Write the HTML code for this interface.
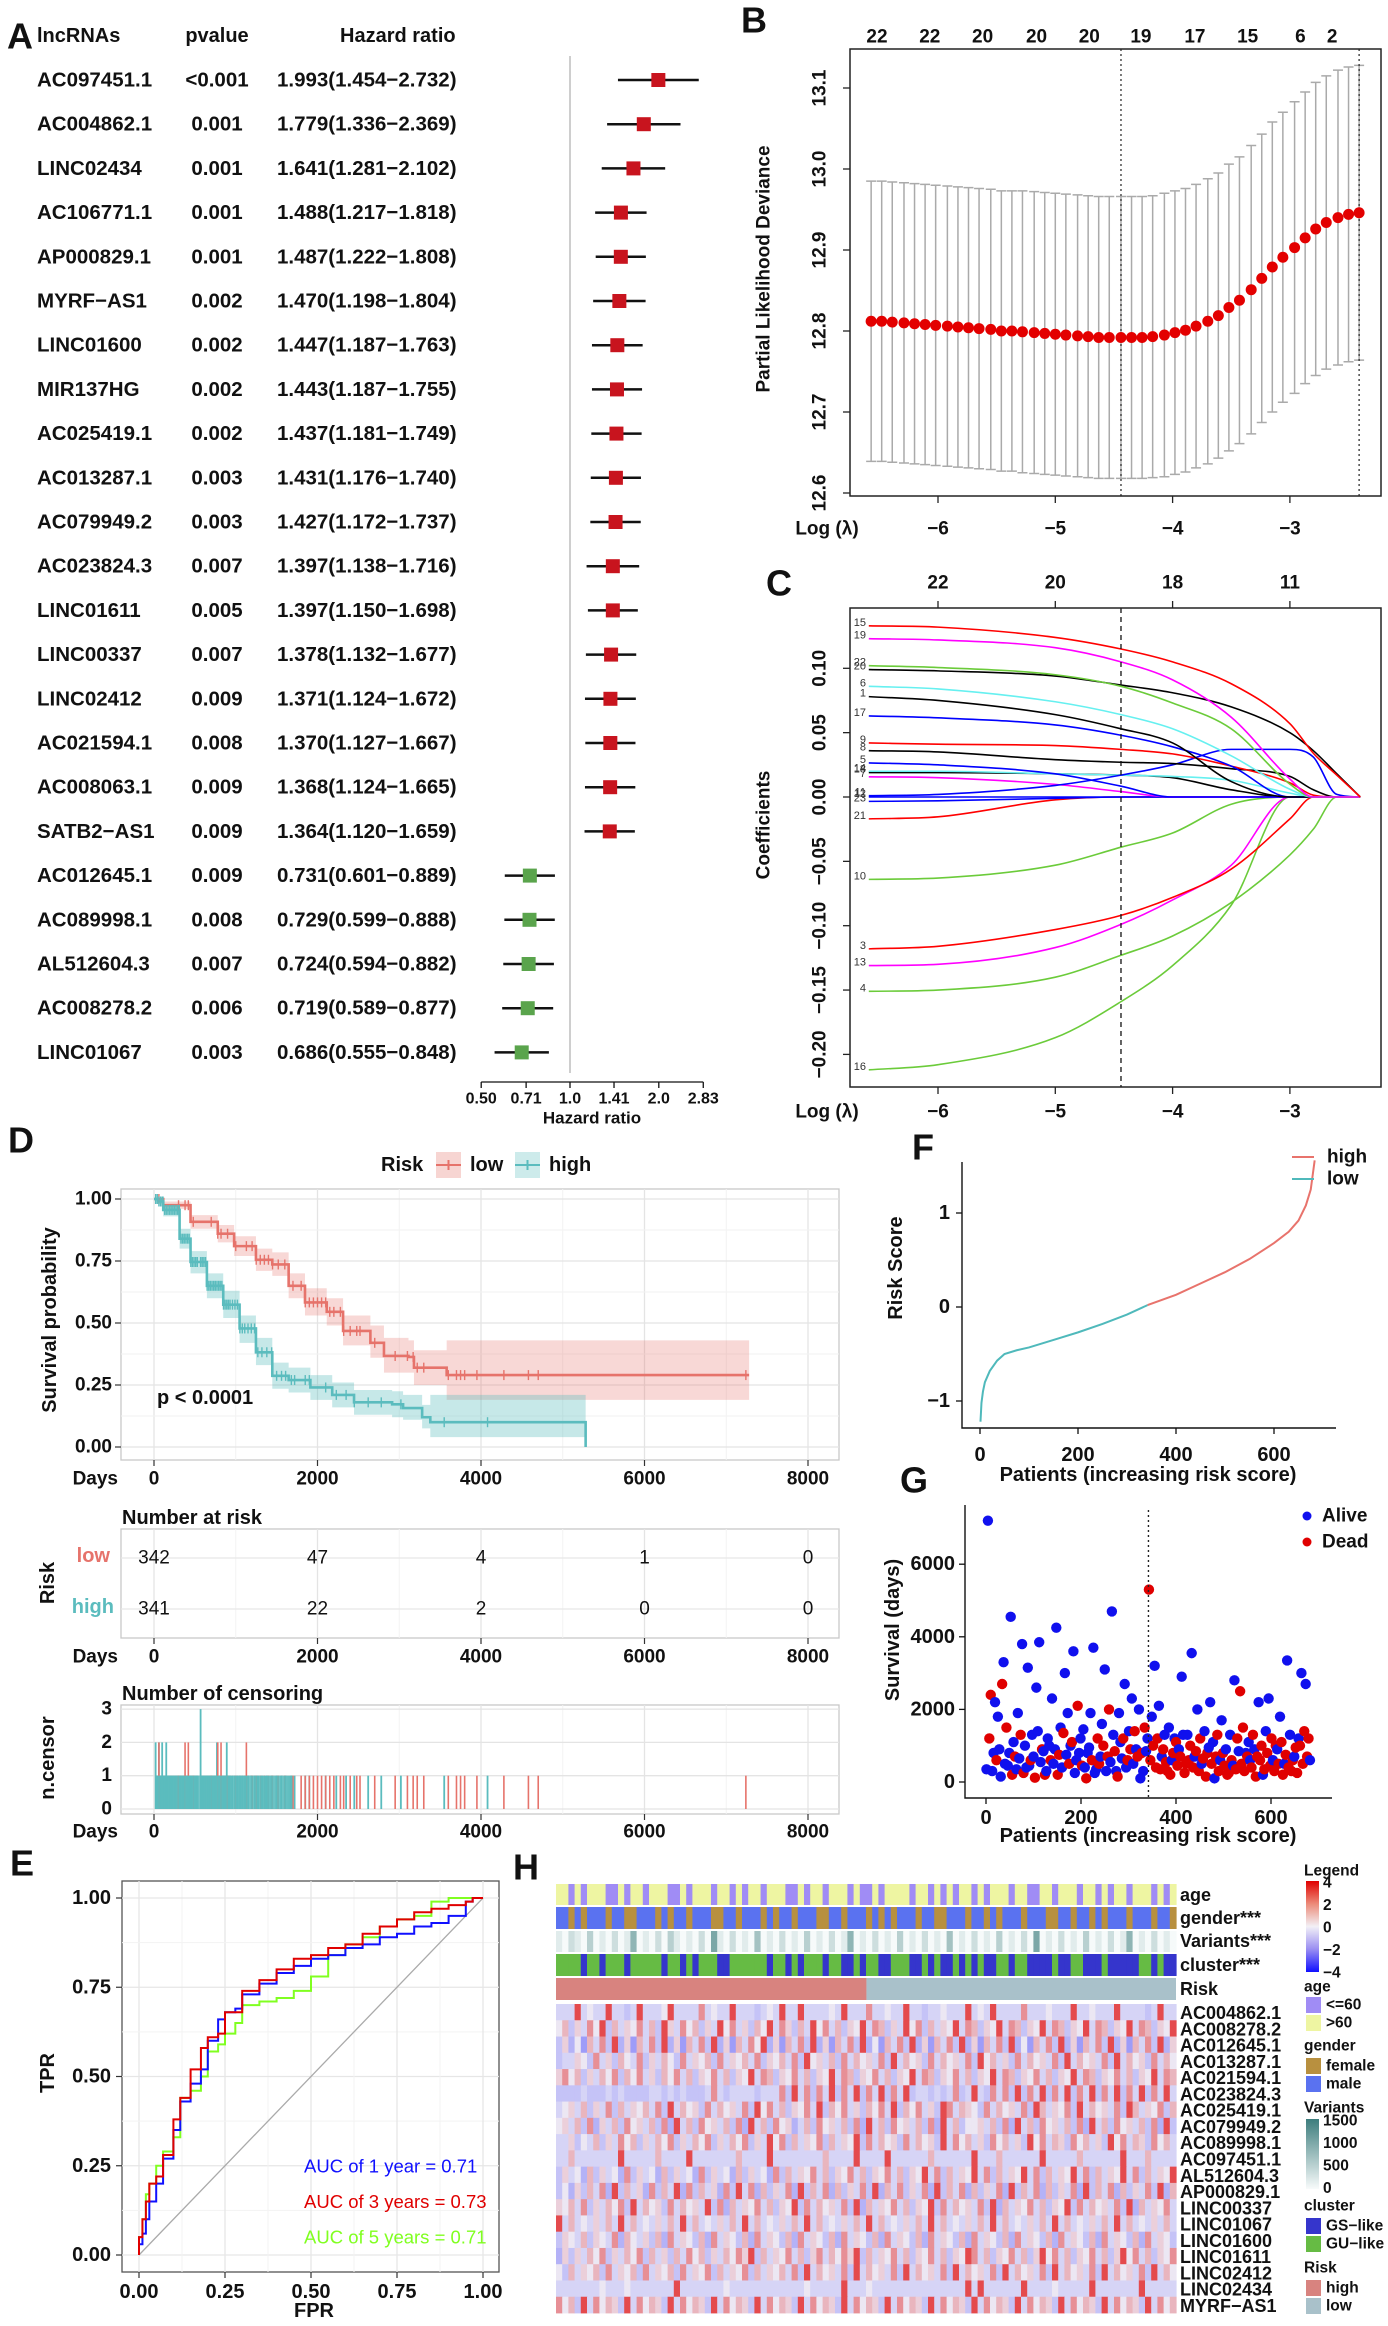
<!DOCTYPE html>
<html><head><meta charset="utf-8">
<style>
html,body{margin:0;padding:0;background:#fff;}
svg{display:block;font-family:"Liberation Sans",Arial,sans-serif;}
</style></head>
<body>
<svg id="fig" xmlns="http://www.w3.org/2000/svg" width="1388" height="2326" viewBox="0 0 1388 2326">
<defs>
<linearGradient id="gHeat" x1="0" y1="0" x2="0" y2="1">
<stop offset="0" stop-color="#e00000"/><stop offset="0.25" stop-color="#ec8a78"/><stop offset="0.5" stop-color="#f2f0f6"/><stop offset="0.75" stop-color="#9a8ef2"/><stop offset="1" stop-color="#1010ff"/>
</linearGradient>
<linearGradient id="gVar" x1="0" y1="0" x2="0" y2="1">
<stop offset="0" stop-color="#3d7d7d"/><stop offset="1" stop-color="#f8fbfb"/>
</linearGradient>
</defs>
</svg>
<script>
// ================= DATA =================
// Panel A
const aNames=["AC097451.1","AC004862.1","LINC02434","AC106771.1","AP000829.1","MYRF\u2212AS1","LINC01600","MIR137HG","AC025419.1","AC013287.1","AC079949.2","AC023824.3","LINC01611","LINC00337","LINC02412","AC021594.1","AC008063.1","SATB2\u2212AS1","AC012645.1","AC089998.1","AL512604.3","AC008278.2","LINC01067"];
const aPvals=["<0.001","0.001","0.001","0.001","0.001","0.002","0.002","0.002","0.002","0.003","0.003","0.007","0.005","0.007","0.009","0.008","0.009","0.009","0.009","0.008","0.007","0.006","0.003"];
const aHR=[1.993,1.779,1.641,1.488,1.487,1.470,1.447,1.443,1.437,1.431,1.427,1.397,1.397,1.378,1.371,1.370,1.368,1.364,0.731,0.729,0.724,0.719,0.686];
const aLo=[1.454,1.336,1.281,1.217,1.222,1.198,1.187,1.187,1.181,1.176,1.172,1.138,1.150,1.132,1.124,1.127,1.124,1.120,0.601,0.599,0.594,0.589,0.555];
const aHi=[2.732,2.369,2.102,1.818,1.808,1.804,1.763,1.755,1.749,1.740,1.737,1.716,1.698,1.677,1.672,1.667,1.665,1.659,0.889,0.888,0.882,0.877,0.848];
const aTicks=[0.50,0.71,1.0,1.41,2.0,2.83];
const aTickLabels=["0.50","0.71","1.0","1.41","2.0","2.83"];
// Panel B
const bLambda=[-6.57,-6.48,-6.39,-6.29,-6.20,-6.11,-6.02,-5.92,-5.83,-5.74,-5.65,-5.55,-5.46,-5.37,-5.28,-5.18,-5.09,-5.00,-4.91,-4.81,-4.72,-4.63,-4.54,-4.44,-4.35,-4.26,-4.17,-4.07,-3.98,-3.89,-3.80,-3.70,-3.61,-3.52,-3.43,-3.33,-3.24,-3.15,-3.06,-2.96,-2.87,-2.78,-2.69,-2.59,-2.50,-2.41];
const bDev=[12.812,12.812,12.811,12.810,12.809,12.808,12.807,12.806,12.805,12.804,12.803,12.802,12.800,12.800,12.799,12.798,12.797,12.796,12.795,12.794,12.793,12.792,12.792,12.792,12.792,12.792,12.793,12.795,12.798,12.801,12.806,12.812,12.819,12.829,12.838,12.851,12.865,12.879,12.891,12.903,12.915,12.926,12.934,12.940,12.944,12.946];
const bHalf=[0.173,0.173,0.173,0.173,0.173,0.173,0.173,0.173,0.173,0.173,0.173,0.173,0.173,0.173,0.174,0.174,0.174,0.174,0.174,0.174,0.174,0.174,0.174,0.174,0.174,0.174,0.174,0.175,0.175,0.175,0.175,0.176,0.176,0.177,0.177,0.178,0.178,0.179,0.179,0.180,0.180,0.181,0.181,0.182,0.182,0.182];
const bTopLambda=[-6.52,-6.07,-5.62,-5.16,-4.71,-4.27,-3.81,-3.36,-2.91,-2.64];
const bTopCounts=["22","22","20","20","20","19","17","15","6","2"];
const bYTicks=[12.6,12.7,12.8,12.9,13.0,13.1];
const bYTickLabels=["12.6","12.7","12.8","12.9","13.0","13.1"];
const lamTicks=[-6,-5,-4,-3];
const lamTickLabels=["\u22126","\u22125","\u22124","\u22123"];
const lamMin=-4.44, lamSe=-2.41;
// Panel C
const cKnots=[-6.59,-6,-5,-4.44,-4,-3.5,-3,-2.8,-2.6,-2.4];
const cLabels=["15","19","22","20","6","1","17","9","8","5","11","14","18","7","23","12","21","10","3","13","4","16"];
const cColors=["#ff0000","#ff00ff","#6bcb3a","#000000","#66f0f0","#000000","#0000ff","#ff0000","#000000","#0000ff","#0000ff","#66f0f0","#000000","#ff00ff","#0000ff","#0000ff","#ff0000","#6bcb3a","#ff0000","#ff00ff","#6bcb3a","#6bcb3a"];
const cVals=[
[0.133,0.132,0.124,0.115,0.105,0.088,0.057,0.034,0.017,0],
[0.123,0.122,0.116,0.105,0.091,0.062,0.014,0,0,0],
[0.102,0.1006,0.095,0.086,0.073,0.053,0.010,0,0,0],
[0.099,0.098,0.094,0.087,0.081,0.070,0.050,0.036,0.018,0],
[0.086,0.084,0.074,0.064,0.053,0.032,0.006,0,0,0],
[0.078,0.075,0.064,0.053,0.042,0.012,0,0,0,0],
[0.063,0.0615,0.056,0.048,0.039,0.024,0,0,0,0],
[0.042,0.041,0.040,0.037,0.0335,0.024,0.011,0.0014,0,0],
[0.036,0.035,0.029,0.027,0.026,0.022,0.016,0.0056,0,0],
[0.0265,0.025,0.018,0.0084,0,0,0,0,0,0],
[0.001,0.002,0.009,0.017,0.025,0.037,0.037,0.031,0.002,0],
[0.020,0.020,0.018,0.017,0.016,0.013,0.003,0,0,0],
[0.019,0.019,0.018,0.017,0.015,0.0056,0,0,0,0],
[0.0157,0.015,0.0098,0.0042,0,0,0,0,0,0],
[-0.0034,-0.003,-0.001,0,0,0,0,0,0,0],
[0,0,0,0,0,0,0,0,0,0],
[-0.017,-0.0154,-0.0022,0,0,0,0,0,0,0],
[-0.064,-0.063,-0.053,-0.039,-0.028,-0.0056,0,0,0,0],
[-0.118,-0.116,-0.103,-0.092,-0.078,-0.056,-0.017,0,0,0],
[-0.131,-0.130,-0.117,-0.099,-0.080,-0.053,0,0,0,0],
[-0.151,-0.150,-0.140,-0.123,-0.108,-0.082,-0.045,-0.025,0,0],
[-0.212,-0.208,-0.187,-0.159,-0.131,-0.084,0,0,0,0]];
const cTopCounts=["22","20","18","11"];
const cYTicks=[0.10,0.05,0.00,-0.05,-0.10,-0.15,-0.20];
const cYTickLabels=["0.10","0.05","0.00","\u22120.05","\u22120.10","\u22120.15","\u22120.20"];
// Panel D
const kmLowT=[0,113,447,780,980,1247,1447,1647,1847,2113,2313,2647,2813,3113,3180,3580,7280];
const kmLowS=[1,0.975,0.908,0.86,0.81,0.755,0.736,0.65,0.583,0.545,0.468,0.42,0.367,0.363,0.32,0.29,0.29];
const kmLowLo=[1,0.96,0.88,0.825,0.77,0.71,0.69,0.60,0.53,0.49,0.41,0.36,0.30,0.30,0.25,0.19,0.19];
const kmLowHi=[1,0.99,0.935,0.895,0.85,0.80,0.785,0.70,0.64,0.60,0.53,0.49,0.44,0.43,0.39,0.43,0.43];
const kmHighT=[0,47,113,313,447,647,847,1047,1247,1447,1647,1913,2180,2447,2913,3047,3280,3380,5280];
const kmHighS=[1,0.99,0.956,0.84,0.746,0.65,0.574,0.478,0.382,0.287,0.27,0.24,0.21,0.18,0.172,0.157,0.12,0.10,0.0];
const kmHighLo=[1,0.98,0.93,0.80,0.70,0.60,0.52,0.42,0.33,0.235,0.22,0.19,0.16,0.13,0.12,0.11,0.075,0.04,0.04];
const kmHighHi=[1,1,0.98,0.88,0.79,0.70,0.63,0.53,0.44,0.34,0.32,0.29,0.26,0.23,0.225,0.21,0.17,0.21,0.21];
const dDayTicks=[0,2000,4000,6000,8000];
const dDayLabels=["0","2000","4000","6000","8000"];
const dSurvTicks=[0,0.25,0.5,0.75,1];
const dSurvLabels=["0.00","0.25","0.50","0.75","1.00"];
const riskLow=["342","47","4","1","0"];
const riskHigh=["341","22","2","0","0"];
const censHighDays=[20,40,60,80,100,110,130,150,170,190,210,230,250,270,290,310,330,350,370,390,410,430,450,470,490,510,530,570,590,610,630,650,670,690,710,730,750,770,790,810,830,850,870,890,910,930,960,990,1020,1050,1080,1110,1150,1190,1230,1270,1320,1380,1440,1500,1560,1610,1680,1720,1850,1900,2100,2230,2350,2450,2620,2780,3020,3550,4080];
const censHighN=[2,1,2,1,2,1,1,2,1,1,1,1,1,1,1,1,1,1,1,1,1,1,1,1,1,1,1,3,1,1,1,1,1,1,1,1,1,2,1,1,1,1,1,2,1,1,1,1,1,1,1,1,1,1,1,1,1,1,1,1,1,1,1,1,1,1,1,1,1,1,1,1,1,1,1];
const censLowDays=[60,300,380,420,480,700,780,820,900,1000,1130,1200,1250,1300,1350,1400,1450,1520,1600,1700,1800,1850,1900,1950,2000,2050,2100,2150,2200,2280,2320,2400,2480,2520,2700,2950,3100,3170,3220,3300,3600,3700,3750,3800,3950,4280,4580,4700,7240];
const censLowN=[2,1,2,2,1,1,2,2,1,1,2,1,1,1,1,1,1,1,1,1,1,1,1,1,1,1,1,1,1,1,1,1,1,1,1,1,1,1,1,1,1,1,1,1,1,1,1,1,1];
const nTicks=[0,1,2,3];
// Panel E
const rocFpr=[0,0.01,0.02,0.03,0.05,0.07,0.1,0.12,0.15,0.18,0.2,0.23,0.25,0.28,0.3,0.35,0.4,0.45,0.5,0.55,0.6,0.65,0.7,0.75,0.8,0.85,0.9,0.95,0.97,1];
const rocTpr1=[0,0.03,0.06,0.1,0.15,0.2,0.27,0.35,0.43,0.48,0.52,0.6,0.66,0.68,0.69,0.73,0.76,0.79,0.81,0.83,0.84,0.86,0.87,0.89,0.9,0.92,0.93,0.95,0.99,1];
const rocTpr3=[0,0.05,0.1,0.15,0.2,0.22,0.28,0.38,0.44,0.52,0.58,0.61,0.62,0.68,0.68,0.74,0.77,0.8,0.83,0.84,0.86,0.87,0.9,0.92,0.94,0.96,0.97,0.98,0.99,1];
const rocTpr5=[0,0.05,0.1,0.17,0.2,0.25,0.29,0.33,0.44,0.46,0.5,0.57,0.59,0.62,0.65,0.7,0.71,0.72,0.74,0.78,0.84,0.87,0.89,0.92,0.94,0.95,0.99,1,1,1];
const eTicks=[0,0.25,0.5,0.75,1];
const eTickLabels=["0.00","0.25","0.50","0.75","1.00"];
const aucLabels=["AUC of 1 year =  0.71","AUC of 3 years =  0.73","AUC of 5 years =  0.71"];
// Panel F
const fPat=[1,3,6,10,20,35,50,75,100,150,200,250,300,342,400,450,500,550,600,630,650,665,675,683];
const fRisk=[-1.22,-1.02,-0.9,-0.8,-0.68,-0.57,-0.5,-0.46,-0.43,-0.35,-0.27,-0.18,-0.08,0.02,0.13,0.25,0.37,0.51,0.68,0.8,0.92,1.08,1.25,1.56];
const fCut=342;
const patTicks=[0,200,400,600];
const fYTicks=[-1,0,1];
const fYLabels=["\u22121","0","1"];
// Panel G
const gDays=[350,7200,1200,2400,300,800,2200,600,1800,900,150,2700,3300,500,1500,450,800,4550,200,1100,
700,350,1900,650,1300,3800,250,1000,400,3150,450,600,1300,700,120,2600,1400,3850,550,900,
850,200,300,1200,1000,600,2300,500,900,4250,200,750,1500,400,1350,3000,750,1900,500,1000,
1100,3600,250,600,2100,800,1200,450,1450,400,100,800,950,1900,600,3700,250,350,1200,500,
700,1600,1000,3100,300,700,2000,550,4700,1300,850,300,150,1900,1100,650,1200,2700,400,600,
1400,900,2300,500,1400,900,700,2000,100,800,300,1500,850,1200,5300,600,1800,1000,3200,400,
1200,2100,350,700,900,1300,550,300,1500,200,600,800,1200,1100,450,900,700,2900,1300,250,
500,1300,600,1000,3550,400,700,850,2000,300,1200,500,650,1400,150,800,950,2200,500,1100,
100,700,1300,300,600,1700,800,450,900,200,250,1300,600,450,2800,350,1200,850,2500,500,
1500,300,800,700,1100,600,400,1300,900,150,700,2200,600,1000,200,350,1400,800,2300,450,
1200,600,300,1000,900,500,1800,1100,200,500,750,3350,400,1300,300,600,700,950,250,1200,
1000,3000,500,1400,2700,700,1200,600];
const gDead=[0,0,1,1,0,0,0,1,0,0,0,1,0,0,1,0,0,0,1,0,
1,0,0,0,1,0,1,0,0,0,0,1,0,0,1,0,0,0,0,1,
0,1,0,0,0,1,0,0,0,0,1,1,0,0,1,0,0,0,1,0,
1,0,0,0,1,0,0,1,0,0,1,0,0,0,1,0,0,0,1,1,
0,0,1,0,0,1,1,0,0,0,1,0,1,0,0,0,1,0,0,1,
0,1,0,0,1,0,1,0,0,1,0,1,0,0,1,1,0,1,0,1,
1,0,1,0,1,0,1,1,0,1,0,1,0,1,1,0,1,0,0,1,
1,0,1,1,0,1,0,1,0,1,1,0,1,0,1,1,0,0,1,0,
0,1,1,1,0,0,1,1,0,1,1,0,1,0,0,1,1,0,1,1,
1,1,0,1,0,0,1,1,0,1,1,0,1,1,0,1,0,1,0,1,
1,0,1,1,0,1,0,1,1,0,1,0,1,0,1,1,0,1,1,0,
1,0,1,1,0,1,1,0];
const gPatStep=3;
const gYTicks=[0,2000,4000,6000];
// Panel H
const hGenes=["AC004862.1","AC008278.2","AC012645.1","AC013287.1","AC021594.1","AC023824.3","AC025419.1","AC079949.2","AC089998.1","AC097451.1","AL512604.3","AP000829.1","LINC00337","LINC01067","LINC01600","LINC01611","LINC02412","LINC02434","MYRF\u2212AS1"];
const hRows=[
"4449454494434944459444484544944434549449444454944484454494434454449454944448444544494454449444434944",
"5736485937465847396485736495846375948637495847365948736495837465948736594873659487365948736594873659",
"3625174839261748392617483926174859261748392617483925174839261748392617483925174839261748392617483926",
"3446538463754836475384657384657483657483956473847564839475638475648395746384756483947564839475638475",
"6857364758375846375847365847365948736584736594873658473659487365847365948736584736594873658473659487",
"3333433343433334434343334843444434448394838493849384938493443434834943848393849384938493849384938494",
"4564736483746574839475638475648395847365849375846375849375846398476538475648397465839475648397465837",
"5647382647385647382947385647382947385624738564738294738564738294735564738294738564738294738564738293",
"4463547364857364758364758364758364958374658374659384756384756394857463857463958476385746395847638574",
"4474444444944444744449444444474444944444444744449444494444447444444944474444449444447444444944474444",
"3645273645283645273645283645273645283746584736584736584736594837465948374659483746594837465948374659",
"3526374829374628374928374628394827364829374827364839274836482937482736482937482736482937482736483927",
"6574836475839475638475649382746584736593847564839274658473659384756483927465847365938475648392746584",
"9474546474947454647494745464749474546474947454647494745464749474546474947454647494745464749474546474",
"3654736548275463728465372846537284653728465372846537284653728465372846537284653728465372846537284653",
"2636475836475837463748573647586937465847368475869374658473658473659847365847369584736584736958473658",
"5374657384657384657384658374658374657483947564839475648394756483947564839475648394756483947564839475",
"4444444544454444444944444445444444444444544444944454444444444444449494444449444454444494444444944444",
"8573948576394857639485763948576394857639485763948576394857639485763948576394857639485763948576394857"];
const hZ=[-2.3,-1.6,-1.15,-0.8,-0.45,0.05,0.5,1.0,1.7,3.0];
const hAge="1101011100101101110010111011010110111001011011101001011110110101011010111011001101110110101101110101";
const hGender="0010100010011000101001000110010001010010001100100010101000100110001001010001000110010010100010001001";
const hVariants="1021030102015010203101020610201040102010301020150102010301020104010201030102060102010301020150102010";
const hCluster="1111011011101111101101011100111111011010111011001011001110010100101010011011000010011000100000110100";
const hRiskN=[342,341];

// ================= HELPERS =================
const NS="http://www.w3.org/2000/svg";
const svg=document.getElementById('fig');
function el(tag,a,parent){const e=document.createElementNS(NS,tag);for(const k in a)e.setAttribute(k,a[k]);(parent||svg).appendChild(e);return e;}
function txt(x,y,s,o,parent){o=o||{};const a={x:x,y:y,'font-size':o.size||19,'font-weight':o.w||'bold','text-anchor':o.anchor||'start',fill:o.fill||'#111','dominant-baseline':'central'};if(o.rot)a.transform='rotate(-90 '+x+' '+y+')';const t=el('text',a,parent);t.textContent=s;return t;}
function grp(name){const g=el('g',{});return g;}
function mono(xs,ys){const n=xs.length,d=[],m=[];for(let i=0;i<n-1;i++)d.push((ys[i+1]-ys[i])/(xs[i+1]-xs[i]));m[0]=d[0];m[n-1]=d[n-2];for(let i=1;i<n-1;i++)m[i]=(d[i-1]*d[i]<=0)?0:(d[i-1]+d[i])/2;for(let i=0;i<n-1;i++){if(d[i]===0){m[i]=0;m[i+1]=0;continue;}const a=m[i]/d[i],b=m[i+1]/d[i],s=a*a+b*b;if(s>9){const t=3/Math.sqrt(s);m[i]=t*a*d[i];m[i+1]=t*b*d[i];}}let p='M'+xs[0]+' '+ys[0];for(let i=0;i<n-1;i++){const h=xs[i+1]-xs[i];p+=' C'+(xs[i]+h/3)+' '+(ys[i]+m[i]*h/3)+' '+(xs[i+1]-h/3)+' '+(ys[i+1]-m[i+1]*h/3)+' '+xs[i+1]+' '+ys[i+1];}return p;}

// ================= PANEL A =================
(function(){
const g=grp('panel-a-forest-plot');
const hrX=h=>570+Math.log2(h)*88.8;
const rowY=i=>80+i*44.2;
let t=txt(7,36,'A',{size:36},g);
t=txt(37,36,'lncRNAs',{size:20},g);
t=txt(217,36,'pvalue',{size:20,anchor:'middle'},g);
t=txt(340,36,'Hazard ratio',{size:20},g);
let l=el('line',{x1:hrX(1),x2:hrX(1),y1:56,y2:1073,stroke:'#bdbdbd','stroke-width':1.5},g);
for(let i=0;i<aNames.length;i++){
 const y=rowY(i);
 let a=txt(37,y,aNames[i],{size:20.5},g);
 a=txt(217,y,aPvals[i],{size:20.5,anchor:'middle'},g);
 a=txt(277,y,aHR[i].toFixed(3)+'('+aLo[i].toFixed(3)+'\u2212'+aHi[i].toFixed(3)+')',{size:20.5},g);
 const ci=el('line',{x1:hrX(aLo[i]),x2:hrX(aHi[i]),y1:y,y2:y,stroke:'#111','stroke-width':2.5},g);
 const b=el('rect',{x:hrX(aHR[i])-7,y:y-7,width:14,height:14,fill:aHR[i]>1?'#c8141e':'#5aa44c'},g);
}
const ax=el('line',{x1:hrX(0.5),x2:hrX(2.83),y1:1082,y2:1082,stroke:'#111','stroke-width':1.3},g);
aTicks.forEach((v,i)=>{const tk=el('line',{x1:hrX(v),x2:hrX(v),y1:1082,y2:1088,stroke:'#111','stroke-width':1.3},g);
 const tl=txt(hrX(v),1099,aTickLabels[i],{size:16,anchor:'middle'},g);});
t=txt(592,1118,'Hazard ratio',{size:17,anchor:'middle'},g);
})();

// ================= PANEL B =================
const xB=l=>938+(l+6)*117.3;
(function(){
const g=grp('panel-b-cv-plot');
const yB=v=>493-(v-12.6)*810;
let t=txt(741,20,'B',{size:36},g);
for(let i=0;i<bLambda.length;i++){
 const x=xB(bLambda[i]),yu=yB(bDev[i]+bHalf[i]),yl=yB(bDev[i]-bHalf[i]);
 const e=el('path',{d:'M'+x+' '+yu+'V'+yl+'M'+(x-5)+' '+yu+'H'+(x+5)+'M'+(x-5)+' '+yl+'H'+(x+5),stroke:'#aaaaaa','stroke-width':1.5,fill:'none'},g);
}
[lamMin,lamSe].forEach(v=>{const d=el('line',{x1:xB(v),x2:xB(v),y1:49,y2:496,stroke:'#222','stroke-width':1.2,'stroke-dasharray':'2,3'},g);});
for(let i=0;i<bLambda.length;i++){const c=el('circle',{cx:xB(bLambda[i]),cy:yB(bDev[i]),r:5.5,fill:'#e30000'},g);}
const box=el('rect',{x:850,y:49,width:531,height:447,fill:'none',stroke:'#222','stroke-width':1.5},g);
bTopLambda.forEach((v,i)=>{const a=txt(xB(v),37,bTopCounts[i],{size:19,anchor:'middle'},g);});
bYTicks.forEach((v,i)=>{const tk=el('line',{x1:843,x2:850,y1:yB(v),y2:yB(v),stroke:'#222','stroke-width':1.3},g);
 const a=txt(820,yB(v),bYTickLabels[i],{size:19,anchor:'middle',rot:true},g);});
lamTicks.forEach((v,i)=>{const tk=el('line',{x1:xB(v),x2:xB(v),y1:496,y2:503,stroke:'#222','stroke-width':1.3},g);
 const a=txt(xB(v),529,lamTickLabels[i],{size:19,anchor:'middle'},g);});
t=txt(827,529,'Log (\u03bb)',{size:19,anchor:'middle'},g);
t=txt(764,269,'Partial Likelihood Deviance',{size:19,anchor:'middle',rot:true},g);
})();

// ================= PANEL C =================
(function(){
const g=grp('panel-c-coef-paths');
const yC=c=>797-c*1287;
let t=txt(766,583,'C',{size:36},g);
const xs=cKnots.map(xB);
for(let p=cVals.length-1;p>=0;p--){
 const path=el('path',{d:mono(xs,cVals[p].map(yC)),stroke:cColors[p],'stroke-width':1.6,fill:'none'},g);
}
cVals.forEach((v,p)=>{const a=txt(866,yC(v[0])-3,cLabels[p],{size:11,w:'normal',anchor:'end',fill:'#333'},g);});
const d=el('line',{x1:xB(lamMin),x2:xB(lamMin),y1:608,y2:1087,stroke:'#111','stroke-width':1.3,'stroke-dasharray':'5,4'},g);
const box=el('rect',{x:850,y:608,width:531,height:479,fill:'none',stroke:'#222','stroke-width':1.5},g);
lamTicks.forEach((v,i)=>{
 const tt=el('line',{x1:xB(v),x2:xB(v),y1:601,y2:608,stroke:'#222','stroke-width':1.3},g);
 const a=txt(xB(v),583,cTopCounts[i],{size:19,anchor:'middle'},g);
 const tk=el('line',{x1:xB(v),x2:xB(v),y1:1087,y2:1094,stroke:'#222','stroke-width':1.3},g);
 const b=txt(xB(v),1112,lamTickLabels[i],{size:19,anchor:'middle'},g);});
cYTicks.forEach((v,i)=>{const tk=el('line',{x1:843,x2:850,y1:yC(v),y2:yC(v),stroke:'#222','stroke-width':1.3},g);
 const a=txt(820,yC(v),cYTickLabels[i],{size:19,anchor:'middle',rot:true},g);});
t=txt(827,1112,'Log (\u03bb)',{size:19,anchor:'middle'},g);
t=txt(764,825,'Coefficients',{size:19,anchor:'middle',rot:true},g);
})();

// ================= PANEL D =================
const xD=t=>154+t*0.08175;
(function(){
const g=grp('panel-d-km-plot');
const yD=s=>1447-s*248;
const RED='#e6736b',TEAL='#5bbcbe';
let t=txt(8,1140,'D',{size:36},g);
function panelBox(y0,y1,name){const r=el('rect',{x:121,y:y0,width:718,height:y1-y0,fill:'#fff',stroke:'#c8c8c8','stroke-width':1.3},g);
 for(let k=0;k<9;k++){const tv=k*1000;const gl=el('line',{x1:xD(tv),x2:xD(tv),y1:y0,y2:y1,stroke:k%2?'#f2f2f2':'#e4e4e4','stroke-width':k%2?1:1.3},g);}}
panelBox(1189,1460,'survival-panel');
for(let k=0;k<9;k++){const s=k*0.125;const gl=el('line',{x1:121,x2:839,y1:yD(s),y2:yD(s),stroke:k%2?'#f2f2f2':'#e4e4e4','stroke-width':k%2?1:1.3},g);}
function band(T,lo,hi,tEnd){let p='M'+xD(T[0])+' '+yD(hi[0]);for(let i=1;i<T.length;i++)p+='H'+xD(T[i])+'V'+yD(hi[i]);p+='H'+xD(tEnd)+'V'+yD(lo[lo.length-1]);for(let i=T.length-1;i>=1;i--)p+='H'+xD(T[i])+'V'+yD(lo[i-1]);p+='H'+xD(T[0])+'Z';return p;}
function step(T,S){let p='M'+xD(T[0])+' '+yD(S[0]);for(let i=1;i<T.length;i++)p+='H'+xD(T[i])+'V'+yD(S[i]);return p;}
function sAt(T,S,d){let v=S[0];for(let i=0;i<T.length;i++)if(T[i]<=d)v=S[i];return v;}
let b=el('path',{d:band(kmLowT,kmLowLo,kmLowHi,7280),fill:RED,'fill-opacity':0.28},g);
b=el('path',{d:band(kmHighT.slice(0,-1),kmHighLo.slice(0,-1),kmHighHi.slice(0,-1),5280),fill:TEAL,'fill-opacity':0.35},g);
let c=el('path',{d:step(kmLowT,kmLowS),stroke:RED,'stroke-width':2.6,fill:'none'},g);
c=el('path',{d:step(kmHighT,kmHighS),stroke:TEAL,'stroke-width':2.6,fill:'none'},g);
censLowDays.forEach(d=>{const y=yD(sAt(kmLowT,kmLowS,d));const m=el('line',{x1:xD(d),x2:xD(d),y1:y-5,y2:y+5,stroke:RED,'stroke-width':1.4},g);});
censHighDays.forEach(d=>{if(d>=5280)return;const y=yD(sAt(kmHighT,kmHighS,d));const m=el('line',{x1:xD(d),x2:xD(d),y1:y-5,y2:y+5,stroke:TEAL,'stroke-width':1.4},g);});
dSurvTicks.forEach((v,i)=>{const tk=el('line',{x1:115,x2:121,y1:yD(v),y2:yD(v),stroke:'#333','stroke-width':1.2},g);
 const a=txt(112,yD(v),dSurvLabels[i],{size:19,anchor:'end'},g);});
function dayAxis(y0,yl,nm){dDayTicks.forEach((v,i)=>{const tk=el('line',{x1:xD(v),x2:xD(v),y1:y0,y2:y0+6,stroke:'#333','stroke-width':1.2},g);
 const a=txt(xD(v),yl,dDayLabels[i],{size:19,anchor:'middle'},g);});
 const dl=txt(118,yl,'Days',{size:19,anchor:'end'},g);}
dayAxis(1460,1479,'days-axis-title');
t=txt(50,1320,'Survival probability',{size:20,anchor:'middle',rot:true},g);
t=txt(157,1398,'p < 0.0001',{size:20},g);
t=txt(381,1165,'Risk',{size:20},g);
[[436,'low',RED,470],[515,'high',TEAL,549]].forEach(k=>{const r=el('rect',{x:k[0],y:1152,width:25,height:26,fill:k[2],'fill-opacity':0.3},g);
 const ln=el('path',{d:'M'+k[0]+' 1165H'+(k[0]+25)+'M'+(k[0]+12.5)+' 1160V1170',stroke:k[2],'stroke-width':2},g);
 const a=txt(k[3],1165,k[1],{size:20,w:'bold'},g);});
t=txt(122,1518,'Number at risk',{size:20},g);
panelBox(1529,1638,'risk-table-panel');
[1558,1609].forEach(y=>{const gl=el('line',{x1:121,x2:839,y1:y,y2:y,stroke:'#e8e8e8','stroke-width':1.3},g);});
dDayTicks.forEach((v,i)=>{let a=txt(xD(v),1558,riskLow[i],{size:19,w:'normal',anchor:'middle'},g);
 a=txt(xD(v),1609,riskHigh[i],{size:19,w:'normal',anchor:'middle'},g);});
t=txt(110,1556,'low',{size:20,anchor:'end',fill:RED},g);
t=txt(114,1607,'high',{size:20,anchor:'end',fill:TEAL},g);
t=txt(48,1583,'Risk',{size:20,anchor:'middle',rot:true},g);
dayAxis(1638,1657,'days-axis-title');
t=txt(122,1694,'Number of censoring',{size:20},g);
panelBox(1705,1814,'censor-panel');
const yN=n=>1809-n*33.3;
nTicks.forEach(v=>{const gl=el('line',{x1:121,x2:839,y1:yN(v),y2:yN(v),stroke:'#e4e4e4','stroke-width':1.3},g);
 const a=txt(112,yN(v),String(v),{size:19,anchor:'end'},g);});
censHighDays.forEach((d,i)=>{const m=el('line',{x1:xD(d),x2:xD(d),y1:yN(0),y2:yN(censHighN[i]),stroke:TEAL,'stroke-width':1.8},g);});
censLowDays.forEach((d,i)=>{const m=el('line',{x1:xD(d),x2:xD(d),y1:yN(0),y2:yN(censLowN[i]),stroke:RED,'stroke-width':1.6},g);});
for(let d=20;d<1700;d+=12){const m=el('line',{x1:xD(d),x2:xD(d),y1:yN(0),y2:yN(1),stroke:TEAL,'stroke-width':1},g);}
t=txt(48,1758,'n.censor',{size:20,anchor:'middle',rot:true},g);
dayAxis(1814,1832,'days-axis-title');
})();

// ================= PANEL E =================
(function(){
const g=grp('panel-e-roc');
const xE=f=>139+f*344, yE=v=>2255-v*357;
let t=txt(10,1863,'E',{size:36},g);
const box=el('rect',{x:122,y:1881,width:377,height:391,fill:'#fff',stroke:'#555','stroke-width':1.3},g);
for(let k=0;k<9;k++){const v=k*0.125;let gl=el('line',{x1:xE(v),x2:xE(v),y1:1881,y2:2272,stroke:k%2?'#f3f3f3':'#e6e6e6','stroke-width':k%2?1:1.3},g);
 gl=el('line',{x1:122,x2:499,y1:yE(v),y2:yE(v),stroke:k%2?'#f3f3f3':'#e6e6e6','stroke-width':k%2?1:1.3},g);}
const dg=el('line',{x1:xE(0),y1:yE(0),x2:xE(1),y2:yE(1),stroke:'#aaaaaa','stroke-width':1.3},g);
function roc(T,col,nm){let p='M'+xE(rocFpr[0])+' '+yE(T[0]);for(let i=1;i<rocFpr.length;i++)p+='V'+yE(T[i])+'H'+xE(rocFpr[i]);const c=el('path',{d:p,stroke:col,'stroke-width':2,fill:'none'},g);}
roc(rocTpr5,'#80ff20','roc-curve-5-year');roc(rocTpr1,'#1010ff','roc-curve-1-year');roc(rocTpr3,'#e00000','roc-curve-3-year');
eTicks.forEach((v,i)=>{let tk=el('line',{x1:116,x2:122,y1:yE(v),y2:yE(v),stroke:'#333','stroke-width':1.2},g);
 let a=txt(111,yE(v),eTickLabels[i],{size:20,anchor:'end'},g);
 tk=el('line',{x1:xE(v),x2:xE(v),y1:2272,y2:2278,stroke:'#333','stroke-width':1.2},g);
 a=txt(xE(v),2292,eTickLabels[i],{size:20,anchor:'middle'},g);});
t=txt(314,2311,'FPR',{size:20,anchor:'middle'},g);
t=txt(48,2073,'TPR',{size:20,anchor:'middle',rot:true},g);
['#1010ff','#e00000','#80ff20'].forEach((col,i)=>{const a=txt(304,2166+i*35.5,aucLabels[i],{size:18.5,w:'normal',fill:col},g);});
})();

// ================= PANEL F =================
(function(){
const g=grp('panel-f-risk-score');
const xF=p=>980+p*0.49, yF=r=>1307-r*94;
let t=txt(912,1147,'F',{size:36},g);
let ax=el('path',{d:'M962 1162V1428H1336',stroke:'#111','stroke-width':1.4,fill:'none'},g);
let lo='',hi='';fPat.forEach((p,i)=>{const s=xF(p)+' '+yF(fRisk[i]);if(p<=fCut)lo+=(lo?'L':'M')+s;if(p>=fCut)hi+=(hi?'L':'M')+s;});
let c=el('path',{d:lo,stroke:'#4fb9bb','stroke-width':2,fill:'none'},g);
c=el('path',{d:hi,stroke:'#e8736c','stroke-width':2,fill:'none'},g);
fYTicks.forEach((v,i)=>{const tk=el('line',{x1:956,x2:962,y1:yF(v),y2:yF(v),stroke:'#111','stroke-width':1.3},g);
 const a=txt(950,yF(v),fYLabels[i],{size:20,anchor:'end'},g);});
patTicks.forEach(v=>{const tk=el('line',{x1:xF(v),x2:xF(v),y1:1428,y2:1434,stroke:'#111','stroke-width':1.3},g);
 const a=txt(xF(v),1455,String(v),{size:20,anchor:'middle'},g);});
t=txt(1148,1475,'Patients (increasing risk score)',{size:20,anchor:'middle'},g);
t=txt(896,1268,'Risk Score',{size:20,anchor:'middle',rot:true},g);
[['high','#e8736c',1157],['low','#4fb9bb',1179]].forEach(k=>{const ln=el('line',{x1:1292,x2:1314,y1:k[2],y2:k[2],stroke:k[1],'stroke-width':2},g);
 const a=txt(1327,k[2],k[0],{size:19},g);});
})();

// ================= PANEL G =================
(function(){
const g=grp('panel-g-survival-scatter');
const xG=p=>986+p*0.475, yG=d=>1782-d*0.0363;
let t=txt(900,1480,'G',{size:36},g);
let ax=el('path',{d:'M965 1505V1798H1332',stroke:'#111','stroke-width':1.4,fill:'none'},g);
gDays.forEach((d,i)=>{const c=el('circle',{cx:xG(1+i*gPatStep),cy:yG(d),r:5.2,fill:gDead[i]?'#e00000':'#1010ee'},g);});
const dl=el('line',{x1:xG(342),x2:xG(342),y1:1510,y2:1798,stroke:'#222','stroke-width':1.4,'stroke-dasharray':'2,3'},g);
gYTicks.forEach(v=>{const tk=el('line',{x1:959,x2:965,y1:yG(v),y2:yG(v),stroke:'#111','stroke-width':1.3},g);
 const a=txt(955,yG(v),String(v),{size:20,anchor:'end'},g);});
patTicks.forEach(v=>{const tk=el('line',{x1:xG(v),x2:xG(v),y1:1798,y2:1804,stroke:'#111','stroke-width':1.3},g);
 const a=txt(xG(v),1818,String(v),{size:20,anchor:'middle'},g);});
t=txt(1148,1836,'Patients (increasing risk score)',{size:20,anchor:'middle'},g);
t=txt(893,1630,'Survival (days)',{size:20,anchor:'middle',rot:true},g);
[['Alive','#1010ee',1516],['Dead','#e00000',1542]].forEach(k=>{const c=el('circle',{cx:1307,cy:k[2],r:4.5,fill:k[1]},g);
 const a=txt(1322,k[2],k[0],{size:19},g);});
})();

// ================= PANEL H =================
(function(){
const g=grp('panel-h-heatmap');
const X0=556,X1=1176,W=X1-X0;
let t=txt(513,1867,'H',{size:36},g);
function lerp(a,b,f){return 'rgb('+a.map((v,i)=>Math.round(v+(b[i]-v)*f)).join(',')+')';}
function zcol(z){const W0=[236,234,246];return z<0?lerp(W0,[40,40,250],Math.min(1,-z/4)):lerp(W0,[225,20,20],Math.min(1,z/4));}
function annot(str,y,h,colf,nm){const n=str.length;for(let i=0;i<n;i++){const r=el('rect',{x:X0+i*W/n,y:y,width:W/n+0.6,height:h,fill:colf(str[i])},g);}}
annot(hAge,1884,21,c=>c==='1'?'#eef5a2':'#a08cf5','age-cell');
annot(hGender,1907,22,c=>c==='1'?'#b8903f':'#5a72f0','gender-cell');
annot(hVariants,1931,21,c=>lerp([246,250,250],[61,125,125],(+c)/9),'variants-cell');
annot(hCluster,1954,22,c=>c==='1'?'#66bb44':'#3535cc','cluster-cell');
const tot=hRiskN[0]+hRiskN[1];
let r=el('rect',{x:X0,y:1978,width:W*hRiskN[0]/tot,height:22,fill:'#d8837f'},g);
r=el('rect',{x:X0+W*hRiskN[0]/tot,y:1978,width:W*hRiskN[1]/tot,height:22,fill:'#a9c1ca'},g);
[['age',1895],['gender***',1918],['Variants***',1941],['cluster***',1965],['Risk',1989]].forEach(k=>{const a=txt(1180,k[1],k[0],{size:18},g);});
const top=2004,rh=(2313-2004)/hGenes.length;
hRows.forEach((row,j)=>{const n=row.length;for(let i=0;i<n;i++){const c=el('rect',{x:X0+i*W/n,y:top+j*rh,width:W/n+0.6,height:rh+0.4,fill:zcol(hZ[+row[i]])},g);}
 const a=txt(1180,top+j*rh+rh/2+1,hGenes[j],{size:18},g);});
t=txt(1304,1871,'Legend',{size:15.5},g);
r=el('rect',{x:1306,y:1881,width:13,height:91,fill:'url(#gHeat)'},g);
['4','2','0','\u22122','\u22124'].forEach((s,i)=>{const a=txt(1323,1883+i*22.5,s,{size:15.5},g);});
const sw=[['age',1987,'title'],['<=60',2005,'#a08cf5'],['>60',2023,'#eef5a2'],['gender',2046,'title'],['female',2066,'#b8903f'],['male',2084,'#5a72f0'],['Variants',2108,'title'],['cluster',2206,'title'],['GS\u2212like',2226,'#3535cc'],['GU\u2212like',2244,'#66bb44'],['Risk',2268,'title'],['high',2288,'#d8837f'],['low',2306,'#a9c1ca']];
sw.forEach(k=>{if(k[2]==='title'){const a=txt(1304,k[1],k[0],{size:15.5},g);}
 else{const q=el('rect',{x:1306,y:k[1]-8,width:15,height:16,fill:k[2]},g);
 const a=txt(1326,k[1],k[0],{size:15.5},g);}});
r=el('rect',{x:1306,y:2119,width:13,height:70,fill:'url(#gVar)'},g);
['1500','1000','500','0'].forEach((s,i)=>{const a=txt(1323,2121+i*22.5,s,{size:15.5},g);});
})();
</script>
</body></html>
